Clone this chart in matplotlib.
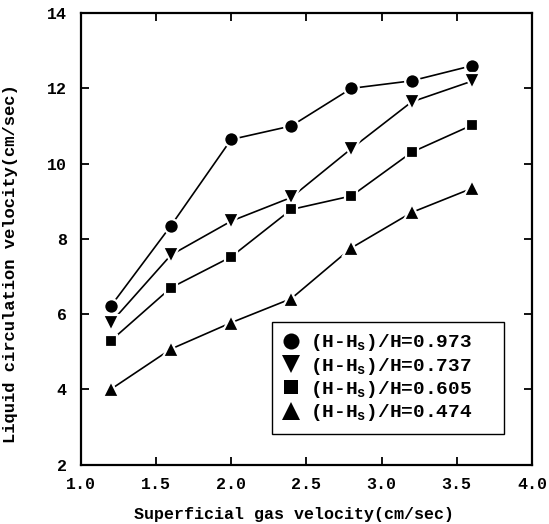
import matplotlib
matplotlib.use("Agg")
import matplotlib.pyplot as plt

plt.rcParams["font.family"] = ["Liberation Mono", "DejaVu Sans Mono"]
plt.rcParams["font.weight"] = "bold"
plt.rcParams["mathtext.fontset"] = "custom"
plt.rcParams["mathtext.rm"] = "Liberation Mono:bold"
plt.rcParams["mathtext.it"] = "Liberation Mono:bold"
plt.rcParams["mathtext.bf"] = "Liberation Mono:bold"

gas_velocity = [1.2, 1.6, 2.0, 2.4, 2.8, 3.2, 3.6]

ratio_0973 = [6.21, 8.35, 10.64, 11.0, 12.0, 12.2, 12.6]
ratio_0737 = [5.77, 7.57, 8.47, 9.1, 10.4, 11.64, 12.19]
ratio_0605 = [5.29, 6.7, 7.52, 8.78, 9.14, 10.3, 11.02]
ratio_0474 = [4.0, 5.07, 5.77, 6.41, 7.76, 8.7, 9.34]

labels = ["0.973", "0.737", "0.605", "0.474"]

fig = plt.figure(figsize=(5.49, 5.24), dpi=100)
ax = fig.add_axes([0.147, 0.1135, 0.822, 0.8615])

series = [ratio_0973, ratio_0737, ratio_0605, ratio_0474]
markers = ["o", "v", "s", "^"]
sizes = [10.5, 11.5, 9.0, 11.5]

for vals, mk, ms, lab in zip(series, markers, sizes, labels):
    ax.plot(gas_velocity, vals, color="black", linewidth=1.2,
            marker=mk, markersize=ms, markerfacecolor="black",
            markeredgecolor="white", markeredgewidth=1.6,
            label=r"(H-H$_{\mathrm{s}}$)/H=" + lab)

ax.set_xlim(1.0, 4.0)
ax.set_ylim(2, 14)
ax.set_xticks([1.0, 1.5, 2.0, 2.5, 3.0, 3.5, 4.0])
ax.set_yticks([2, 4, 6, 8, 10, 12, 14])
ax.tick_params(direction="in", length=6, width=1.3, top=True, right=True,
               labelsize=12)
ax.tick_params(axis="y", pad=10)
ax.tick_params(axis="x", pad=9)
for sp in ax.spines.values():
    sp.set_linewidth(1.6)

ax.set_xlabel("Superficial gas velocity(cm/sec)", fontsize=12,
              fontweight="bold")
ax.set_ylabel("Liquid circulation velocity(cm/sec)", fontsize=12.3,
              fontweight="bold")
ax.xaxis.set_label_coords(0.473, -0.095)
ax.yaxis.set_label_coords(-0.138, 0.446)

# legend box spans a fixed width in the lower right of the axes
leg = ax.legend(loc="lower left", bbox_to_anchor=(0.424, 0.0675, 0.514, 0.25),
                mode="expand", borderaxespad=0, fancybox=False,
                edgecolor="black", framealpha=1, fontsize=14,
                handlelength=0.8, handletextpad=0.6, labelspacing=0.12,
                borderpad=0.55, markerscale=1.1)
leg.get_frame().set_linewidth(1.0)
for h in leg.legend_handles:
    h.set_linestyle("none")
    h.set_markeredgewidth(0)

fig.savefig("out.png", dpi=100)
